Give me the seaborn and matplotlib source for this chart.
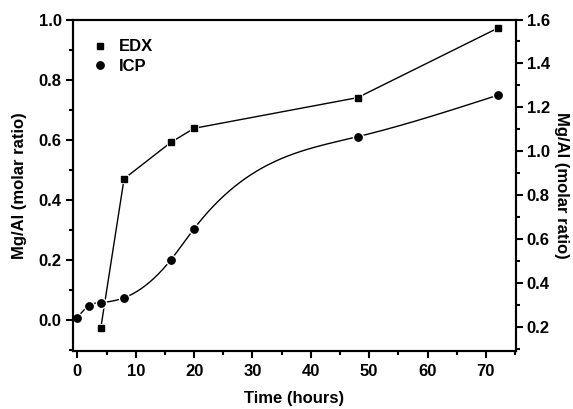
import numpy as np
import pandas as pd
import matplotlib
matplotlib.use("Agg")
import matplotlib.pyplot as plt
import seaborn as sns
from matplotlib.ticker import MultipleLocator

edx_time = [4, 8, 16, 20, 48, 72]
edx_ratio = [-0.028, 0.470, 0.591, 0.638, 0.740, 0.971]
icp_time = [0, 2, 4, 8, 16, 20, 48, 72]
icp_ratio = [0.008, 0.048, 0.058, 0.074, 0.200, 0.304, 0.610, 0.748]

sns.set_theme(style="ticks")
plt.rcParams['font.family'] = ['Liberation Sans', 'DejaVu Sans']
plt.rcParams['font.weight'] = 'bold'
plt.rcParams['text.color'] = 'black'
plt.rcParams['axes.labelcolor'] = 'black'
plt.rcParams['xtick.color'] = 'black'
plt.rcParams['ytick.color'] = 'black'


def natural_spline(x, y, n=400):
    x = np.asarray(x, float); y = np.asarray(y, float)
    k = len(x); h = np.diff(x)
    A = np.zeros((k, k)); b = np.zeros(k)
    A[0, 0] = A[-1, -1] = 1
    for i in range(1, k - 1):
        A[i, i - 1] = h[i - 1]; A[i, i] = 2 * (h[i - 1] + h[i]); A[i, i + 1] = h[i]
        b[i] = 3 * ((y[i + 1] - y[i]) / h[i] - (y[i] - y[i - 1]) / h[i - 1])
    c = np.linalg.solve(A, b)
    xs = np.linspace(x[0], x[-1], n); ys = np.empty_like(xs)
    for j, xv in enumerate(xs):
        i = min(np.searchsorted(x, xv, side='right') - 1, k - 2)
        d = xv - x[i]
        bb = (y[i + 1] - y[i]) / h[i] - h[i] * (2 * c[i] + c[i + 1]) / 3
        dd = (c[i + 1] - c[i]) / (3 * h[i])
        ys[j] = y[i] + bb * d + c[i] * d ** 2 + dd * d ** 3
    return xs, ys

fig = plt.figure(figsize=(5.73, 4.09), dpi=100)
ax = fig.add_axes([0.1269, 0.1418, 0.7731, 0.8105])

sx, sy = natural_spline(icp_time, icp_ratio)
sns.lineplot(x=sx, y=sy, ax=ax, color='black', lw=1.0, sort=False, zorder=2)
sns.lineplot(x=edx_time, y=edx_ratio, ax=ax, color='black', lw=1.0, sort=False, zorder=2)
ax.plot(edx_time, edx_ratio, ls='none', marker='s', ms=5, mfc='black', mec='white', mew=2.2, zorder=3)
ax.plot(icp_time, icp_ratio, ls='none', marker='o', ms=6, mfc='black', mec='white', mew=2.2, zorder=3)
ax.plot(edx_time, edx_ratio, ls='none', marker='s', ms=4.3, color='black', zorder=4, label='EDX')
ax.plot(icp_time, icp_ratio, ls='none', marker='o', ms=5.3, color='black', zorder=4, label='ICP')

ax.set_xlim(-0.8, 75.1)
ax.set_ylim(-0.103, 1.0)
ax.xaxis.set_major_locator(MultipleLocator(10))
ax.xaxis.set_minor_locator(MultipleLocator(5))
ax.yaxis.set_major_locator(MultipleLocator(0.2))
ax.yaxis.set_minor_locator(MultipleLocator(0.1))
ax.yaxis.set_major_formatter(matplotlib.ticker.FormatStrFormatter('%.1f'))
ax.tick_params(which='major', direction='out', length=5, width=1.5, labelsize=12, pad=3)
ax.tick_params(which='minor', direction='out', length=3, width=1.5)
ax.tick_params(axis='x', which='major', pad=4)
ax.tick_params(top=False, right=False, which='both')
for s in ax.spines.values():
    s.set_linewidth(1.5); s.set_color('black')
ax.set_xlabel('Time (hours)', fontsize=12, fontweight='bold', labelpad=9)
ax.set_ylabel('Mg/Al (molar ratio)', fontsize=12, fontweight='bold', labelpad=8)

ax2 = ax.twinx()
ax2.set_ylim(0.092, 1.6)
ax2.yaxis.set_major_locator(MultipleLocator(0.2))
ax2.yaxis.set_minor_locator(MultipleLocator(0.1))
ax2.yaxis.set_major_formatter(matplotlib.ticker.FormatStrFormatter('%.1f'))
ax2.tick_params(which='major', direction='out', length=5, width=1.5, labelsize=12, pad=3)
ax2.tick_params(which='minor', direction='out', length=3, width=1.5)
for s in ax2.spines.values():
    s.set_linewidth(1.5); s.set_color('black')
ax2.set_ylabel('Mg/Al (molar ratio)', fontsize=12, fontweight='bold', rotation=270, labelpad=14)

leg = ax.legend(loc='upper left', bbox_to_anchor=(0.01, 0.985), frameon=False, fontsize=12,
                handlelength=1.0, handletextpad=0.6, labelspacing=0.25)
for t in leg.get_texts():
    t.set_fontweight('bold')

fig.savefig('out.png', dpi=100)
